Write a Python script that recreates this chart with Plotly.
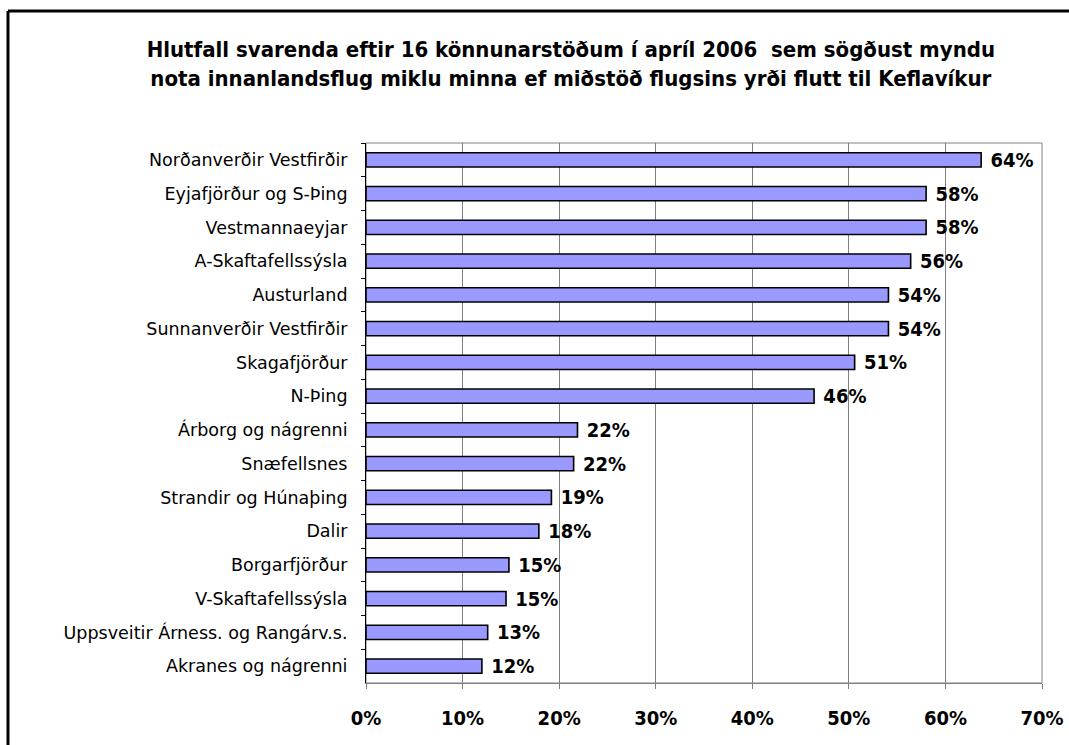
import plotly.graph_objects as go

# Svæði (ofan frá og niður) og hlutfall svarenda í %
svaedi = [
    "Norðanverðir Vestfirðir",
    "Eyjafjörður og S-Þing",
    "Vestmannaeyjar",
    "A-Skaftafellssýsla",
    "Austurland",
    "Sunnanverðir Vestfirðir",
    "Skagafjörður",
    "N-Þing",
    "Árborg og nágrenni",
    "Snæfellsnes",
    "Strandir og Húnaþing",
    "Dalir",
    "Borgarfjörður",
    "V-Skaftafellssýsla",
    "Uppsveitir Árness. og Rangárv.s.",
    "Akranes og nágrenni",
]
hlutfall = [63.7, 58.0, 58.0, 56.4, 54.1, 54.1, 50.6, 46.4,
            21.9, 21.5, 19.2, 17.9, 14.8, 14.5, 12.6, 12.0]

x_ticks = [0, 10, 20, 30, 40, 50, 60, 70]
x_ticktext = [f"{t}%" for t in x_ticks]

titill = ("Hlutfall svarenda eftir 16 könnunarstöðum í apríl 2006  sem sögðust myndu<br>"
          "nota innanlandsflug miklu minna ef miðstöð flugsins yrði flutt til Keflavíkur")

narrow = "DejaVu Sans Condensed, sans-serif"

fig = go.Figure(go.Bar(
    x=hlutfall,
    y=svaedi,
    orientation="h",
    marker=dict(color="#9999ff", line=dict(color="black", width=1.6)),
    texttemplate=" %{x:.0f}%",
    textposition="outside",
    constraintext="none",
    cliponaxis=False,
    textfont=dict(family=narrow, size=20, color="black", weight="bold"),
))

fig.update_layout(
    width=1069, height=745,
    margin=dict(l=366, r=27, t=143, b=62, autoexpand=False),
    paper_bgcolor="white", plot_bgcolor="white",
    bargap=0.58,
    showlegend=False,
    title=dict(text=titill, x=0.534, xanchor="center", y=0.923, yanchor="top",
               font=dict(family=narrow, size=22, color="black", weight="bold")),
    xaxis=dict(range=[0, 70], tickvals=x_ticks, ticktext=x_ticktext,
               showgrid=True, gridcolor="#808080", gridwidth=1,
               showline=True, linecolor="#808080", linewidth=1,
               ticks="outside", ticklen=5, tickcolor="#808080",
               ticklabelstandoff=12, zeroline=False,
               tickfont=dict(family=narrow, size=20, color="black", weight="bold")),
    yaxis=dict(autorange="reversed", showline=True, linecolor="black", linewidth=1,
               ticks="outside", ticklen=4, tickcolor="black", tickson="boundaries",
               ticklabelstandoff=14,
               tickfont=dict(family="DejaVu Sans, sans-serif", size=17.5, color="black")),
    shapes=[
        # plot area border (grey)
        dict(type="rect", xref="paper", yref="paper", x0=0, x1=1, y0=0, y1=1,
             line=dict(color="#808080", width=1), layer="below"),
        # outer chart frame (left and top visible)
        dict(type="line", xref="paper", yref="paper", x0=-0.5296, x1=-0.5296,
             y0=1.2444, y1=-0.2, line=dict(color="black", width=3)),
        dict(type="line", xref="paper", yref="paper", x0=-0.5296, x1=1.1,
             y0=1.2444, y1=1.2444, line=dict(color="black", width=3)),
    ],
)

fig.write_html("out.html", config={"displayModeBar": False},
               post_script="document.body.style.margin='0px';")
